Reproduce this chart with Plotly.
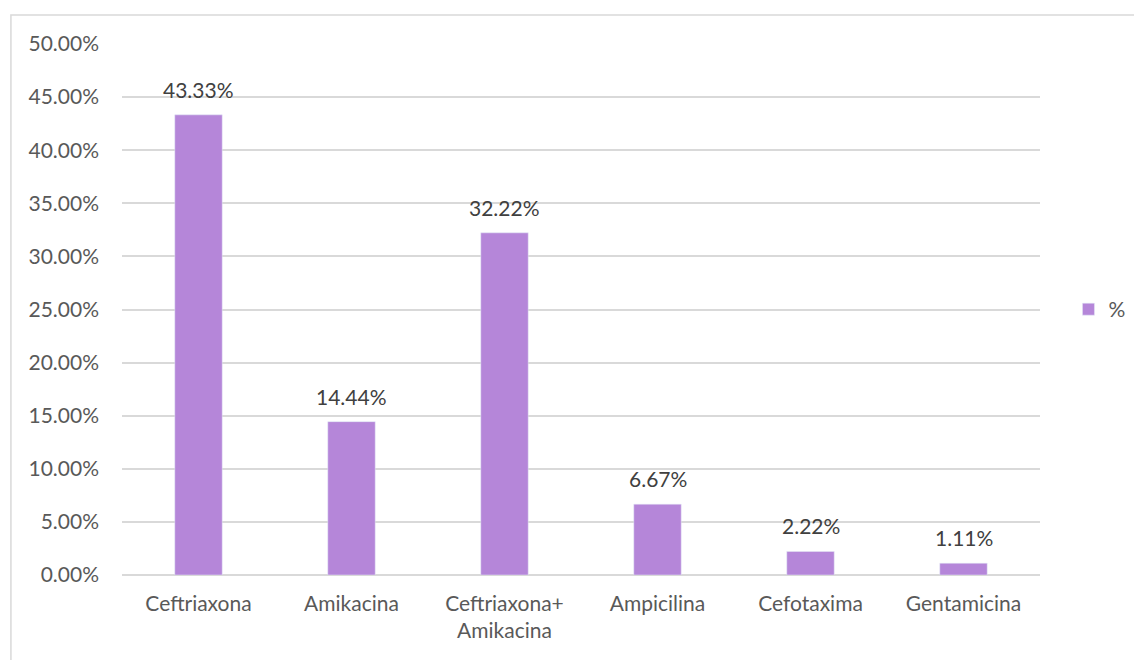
import plotly.graph_objects as go

categories = ["Ceftriaxona", "Amikacina", "Ceftriaxona+<br>Amikacina", "Ampicilina", "Cefotaxima", "Gentamicina"]
values = [43.33, 14.44, 32.22, 6.67, 2.22, 1.11]
tick_vals = [0, 5, 10, 15, 20, 25, 30, 35, 40, 45, 50]
tick_text = [f"{v:.2f}%" for v in tick_vals]

BAR = "#b586d9"
TXT = "#595959"
GRID = "#d9d9d9"
FONT = "Lato, Open Sans, sans-serif"
FS = 21

fig = go.Figure()
fig.add_trace(go.Bar(
    x=categories, y=values, name="%", marker_color=BAR, width=0.31,
    showlegend=True,
))

for c, v in zip(categories, values):
    fig.add_annotation(x=c, y=v, text=f"{v:.2f}%", showarrow=False,
                       yanchor="bottom", yshift=11,
                       font=dict(size=FS, color="#404040", family=FONT))

fig.add_shape(type="rect", xref="paper", yref="paper",
              x0=-0.121, x1=1.2, y0=-0.3, y1=1.0546,
              line=dict(color=GRID, width=1.5), layer="below")

fig.update_layout(
    width=1134, height=660,
    margin=dict(l=122, r=94, t=44, b=85, autoexpand=False),
    plot_bgcolor="white", paper_bgcolor="white",
    font=dict(family=FONT, size=FS, color=TXT),
    bargap=0.69,
    legend=dict(x=1.031, y=0.5, xanchor="left", yanchor="middle",
                font=dict(size=FS, color=TXT), itemwidth=30),
    xaxis=dict(showgrid=False, ticks="", showline=False, automargin=False,
               ticklabelstandoff=14, tickfont=dict(size=FS, color=TXT)),
    yaxis=dict(range=[0, 50], tickvals=tick_vals, ticktext=tick_text,
               showgrid=True, gridcolor=GRID, gridwidth=1.5, automargin=False,
               zeroline=True, zerolinecolor=GRID, zerolinewidth=2,
               ticks="", ticklabelstandoff=22,
               tickfont=dict(size=FS, color=TXT)),
)

fig.write_html("out.html")
